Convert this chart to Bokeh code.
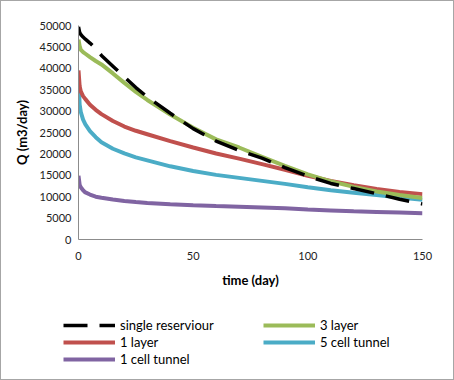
from bokeh.plotting import figure
from bokeh.layouts import column
from bokeh.models import Range1d, FixedTicker, BasicTickFormatter, Legend, LegendItem
from bokeh.embed import file_html
from bokeh.resources import INLINE

# Production rate Q (m3/day) versus time (day) for each model
time_days = [0, 0.5, 1, 2, 3, 5, 7.5, 10, 15, 20, 25, 30, 40, 50, 60, 70, 80, 90,
             100, 110, 120, 130, 140, 150]
single_reservoir = [49700, 48400, 47900, 47300, 46800, 45900, 44600, 43000, 40500,
                    38000, 35500, 33300, 29500, 25900, 23000, 20800, 19000, 16800,
                    14800, 13100, 11900, 10700, 9400, 8300]
three_layer = [46700, 45200, 44300, 43800, 43400, 42600, 41700, 40900, 38800, 36600,
               34500, 32600, 29200, 26100, 23400, 21500, 19300, 17200, 15200, 13600,
               12300, 11200, 10400, 9700]
one_layer = [39500, 35800, 34600, 33500, 32800, 31500, 30300, 29300, 27700, 26400,
             25400, 24600, 23000, 21500, 20100, 18900, 17600, 16300, 14900, 13700,
             12700, 11800, 11100, 10600]
five_cell_tunnel = [37300, 31500, 29800, 28000, 26900, 25300, 23900, 22700, 21200,
                    20100, 19200, 18500, 17100, 16000, 15100, 14400, 13700, 13000,
                    12200, 11500, 10900, 10400, 9800, 9300]
one_cell_tunnel = [14900, 12800, 12200, 11500, 11000, 10500, 10000, 9750, 9350, 9000,
                   8750, 8550, 8250, 8000, 7800, 7650, 7500, 7300, 7000, 6800, 6600,
                   6450, 6300, 6150]

series_labels = ["single reserviour", "3 layer", "1 layer", "5 cell tunnel",
                 "1 cell tunnel"]
x_ticks = [0, 50, 100, 150]
y_ticks = [0, 5000, 10000, 15000, 20000, 25000, 30000, 35000, 40000, 45000, 50000]

FONT = "Lato"
BORDER = "1.5px solid #a6a6a6"

series = [
    (single_reservoir, dict(line_color="#000000", line_width=3.5, line_dash="24 12")),
    (three_layer, dict(line_color="#9BBB59", line_width=4)),
    (one_layer, dict(line_color="#C0504D", line_width=4)),
    (five_cell_tunnel, dict(line_color="#4BACC6", line_width=4)),
    (one_cell_tunnel, dict(line_color="#8064A2", line_width=4)),
]

# --- main chart -------------------------------------------------------------
p = figure(width=454, height=292, output_backend="svg", toolbar_location=None,
           x_range=Range1d(0, 150), y_range=Range1d(0, 50000),
           min_border_left=77, min_border_right=33, min_border_top=24,
           min_border_bottom=54)
p.styles = {"border": BORDER, "border-bottom": "none", "box-sizing": "border-box"}
p.outline_line_color = None
p.xgrid.grid_line_color = None
p.ygrid.grid_line_color = None

for ax in (p.xaxis[0], p.yaxis[0]):
    ax.axis_line_color = "#8c8c8c"
    ax.axis_line_width = 1
    ax.major_tick_line_color = None
    ax.minor_tick_line_color = None
    ax.major_tick_out = 0
    ax.major_tick_in = 0
    ax.major_label_text_font = FONT
    ax.major_label_text_font_size = "11px"
    ax.major_label_text_color = "#222222"
    ax.axis_label_text_font = FONT
    ax.axis_label_text_font_size = "13px"
    ax.axis_label_text_font_style = "bold"
    ax.axis_label_text_color = "#000000"

p.xaxis.ticker = FixedTicker(ticks=x_ticks)
p.yaxis.ticker = FixedTicker(ticks=y_ticks)
p.yaxis.formatter = BasicTickFormatter(use_scientific=False)
p.xaxis.axis_label = "time (day)"
p.yaxis.axis_label = "Q (m3/day)"
p.xaxis.major_label_standoff = 12
p.xaxis.axis_label_standoff = 9
p.yaxis.major_label_standoff = 7
p.yaxis.axis_label_standoff = 7

# draw the dashed single-reservoir curve last so it sits on top
for values, style in reversed(series):
    p.line(time_days, values, **style)

# --- legend strip below the chart -------------------------------------------
# same series, plotted outside this strip's visible range; only the legend shows
lg = figure(width=454, height=88, output_backend="svg", toolbar_location=None,
            x_range=Range1d(0, 150), y_range=Range1d(-2, -1),
            x_axis_location=None, y_axis_location=None,
            min_border_left=0, min_border_right=0, min_border_top=0,
            min_border_bottom=0)
lg.styles = {"border": BORDER, "border-top": "none", "box-sizing": "border-box"}
lg.outline_line_color = None
lg.xgrid.grid_line_color = None
lg.ygrid.grid_line_color = None

items = []
for label, (values, style) in zip(series_labels, series):
    r = lg.line(time_days, values, **style)
    items.append(LegendItem(label=label, renderers=[r]))

legend = Legend(items=items, ncols=2, nrows=3, orientation="horizontal",
                location=(62, 13))
legend.border_line_alpha = 0
legend.background_fill_alpha = 0
legend.padding = 0
legend.margin = 0
legend.spacing = 1
legend.glyph_width = 52
legend.glyph_height = 16
legend.label_height = 16
legend.label_width = 142
legend.label_standoff = 5
legend.label_text_font = FONT
legend.label_text_font_size = "13px"
legend.label_text_color = "#000000"
lg.add_layout(legend, "center")

page = column(p, column(lg, spacing=0), spacing=0)
open("out.html", "w").write(file_html(page, INLINE))
